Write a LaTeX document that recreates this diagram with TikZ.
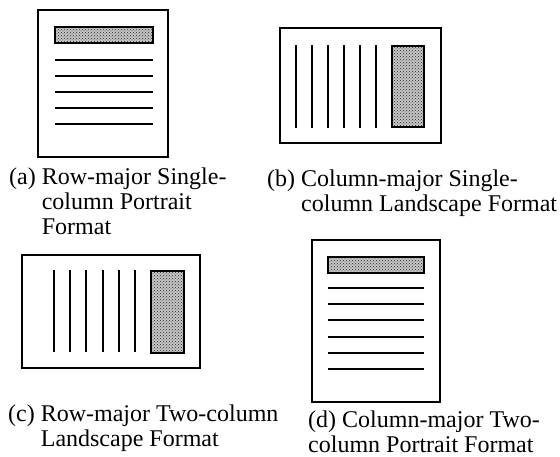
\documentclass[tikz,border=0pt]{standalone}
\usepackage{fontspec}
\setmainfont{Liberation Serif}
\usetikzlibrary{patterns}

\begin{document}
\begin{tikzpicture}[
    x=1pt, y=-1pt,
    page/.style={draw, line width=1.6pt, fill=white},
    shade/.style={draw, line width=1.5pt, pattern=crosshatch dots, pattern color=black!85,
                  preaction={fill=gray!45}},
    rule/.style={line width=1.3pt},
    caption/.style={anchor=base west, inner sep=0pt, font=\fontsize{24}{25}\selectfont}
]
    \useasboundingbox (0,0) rectangle (560,457);

    % (a) single-column portrait page
    \draw[page] (38,10) rectangle (168,157);
    \draw[shade] (55,27) rectangle (153,43);
    \foreach \y in {60,76,92,108,124}
        \draw[rule] (55,\y) -- (153,\y);
    \node[caption] (capA) at (9,185)
        {\begin{tabular}[t]{@{}l@{\ }l@{}}(a)&Row-major Single-\\&column Portrait\\&Format\end{tabular}};

    % (b) single-column landscape page
    \draw[page] (280,28) rectangle (441,143);
    \foreach \x in {296,312,328,344,360,376}
        \draw[rule] (\x,45) -- (\x,128);
    \draw[shade] (392,46) rectangle (424,127);
    \node[caption] (capB) at (267,187)
        {\begin{tabular}[t]{@{}l@{\ }l@{}}(b)&Column-major Single-\\&column Landscape Format\end{tabular}};

    % (c) two-column landscape page
    \draw[page] (22,255) rectangle (200,368);
    \foreach \x in {54,70,86,103,119,135}
        \draw[rule] (\x,270) -- (\x,352);
    \draw[shade] (151,271) rectangle (184,353);
    \node[caption] (capC) at (8,421)
        {\begin{tabular}[t]{@{}l@{\ }l@{}}(c)&Row-major Two-column\\&Landscape Format\end{tabular}};

    % (d) two-column portrait page
    \draw[page] (312,240) rectangle (440,402);
    \draw[shade] (328,257) rectangle (424,273);
    \foreach \y in {288,304,320,337,353,369}
        \draw[rule] (328,\y) -- (424,\y);
    \node[caption] (capD) at (308,427)
        {\begin{tabular}[t]{@{}l@{}}(d) Column-major Two-\\column Portrait Format\end{tabular}};
\end{tikzpicture}
\end{document}
